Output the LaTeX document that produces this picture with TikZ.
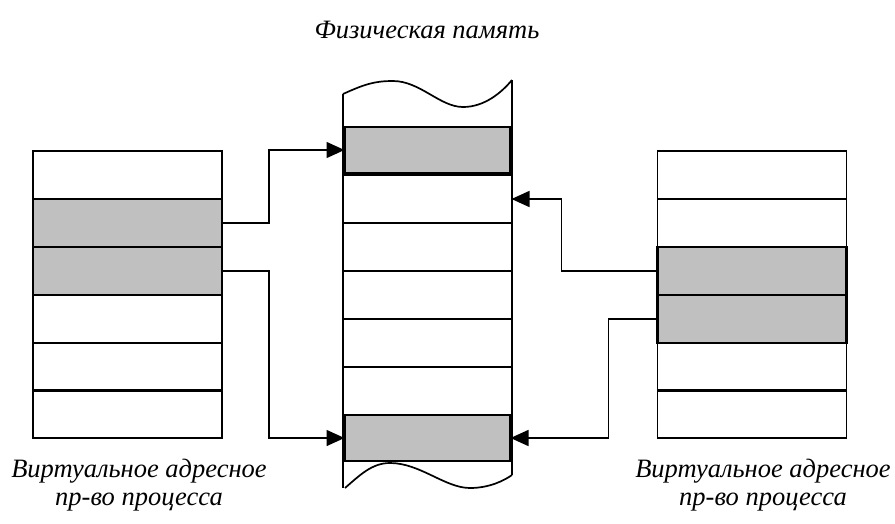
\documentclass[tikz,border=0pt]{standalone}
\usepackage{fontspec}
\setmainfont{Liberation Serif}
\usetikzlibrary{arrows.meta}
\definecolor{shade}{HTML}{C0C0C0}
\tikzset{
  cell/.style={draw=black, line width=1.7pt, minimum width=189pt, minimum height=48pt, inner sep=0pt, outer sep=0pt},
  hot/.style={cell, fill=shade, line width=2.3pt},
  mcell/.style={draw=black, line width=1.7pt, minimum width=168pt, minimum height=48pt, inner sep=0pt, outer sep=0pt},
  mhot/.style={mcell, fill=shade, line width=2.3pt, minimum width=166pt, minimum height=46pt},
  link/.style={line width=1.5pt, -{Triangle[length=18pt,width=16pt]}},
  lbl/.style={font=\fontsize{26.5}{28}\selectfont\itshape, align=center, inner sep=0pt}
}
\begin{document}
\begin{tikzpicture}[x=1pt,y=-1pt]
\useasboundingbox (0,0) rectangle (895,523);
% left table
\node[cell] (L1) at (127.5,175) {};
\node[hot]  (L2) at (127.5,223) {};
\node[hot]  (L3) at (127.5,271) {};
\node[cell] (L4) at (127.5,319) {};
\node[cell] (L5) at (127.5,367) {};
\node[cell] (L6) at (127.5,414) {};
% right table
\node[cell] (R1) at (752,175) {};
\node[cell] (R2) at (752,223) {};
\node[hot]  (R3) at (752,271) {};
\node[hot]  (R4) at (752,319) {};
\node[cell] (R5) at (752,367) {};
\node[cell] (R6) at (752,414) {};
% physical memory
\draw[line width=1.7pt] (343,94) .. controls (365,84) and (375,81) .. (393,81)
  .. controls (420,81) and (440,107) .. (463,107)
  .. controls (485,107) and (502,92) .. (512,80);
\draw[line width=1.7pt] (345,488) .. controls (360,475) and (372,463) .. (390,463)
  .. controls (420,463) and (445,488) .. (470,488)
  .. controls (490,488) and (505,480) .. (512,475);
\draw[line width=1.7pt] (343,94) -- (343,488);
\draw[line width=1.7pt] (512,80) -- (512,475);
\node[mhot]  (M0) at (427.5,150) {};
\node[mcell] (M1) at (427.5,199) {};
\node[mcell] (M2) at (427.5,247) {};
\node[mcell] (M3) at (427.5,295) {};
\node[mcell] (M4) at (427.5,343) {};
\node[mcell] (M5) at (427.5,390.5) {};
\node[mhot]  (M6) at (427.5,438) {};
% connectors
\draw[link] (L2.east) -- ++(47,0) |- (M0.west);
\draw[link] (L3.east) -- ++(47,0) |- (M6.west);
\draw[link] (R3.west) -- ++(-96,0) |- (M1.east);
\draw[link] (R4.west) -- ++(-49,0) |- (M6.east);
% labels
\node[lbl] (title) at (427,30) {Физическая память};
\node[lbl] (lv) at (139,485) {Виртуальное адресное\\пр-во процесса};
\node[lbl] (rv) at (763,485) {Виртуальное адресное\\пр-во процесса};
\end{tikzpicture}
\end{document}
